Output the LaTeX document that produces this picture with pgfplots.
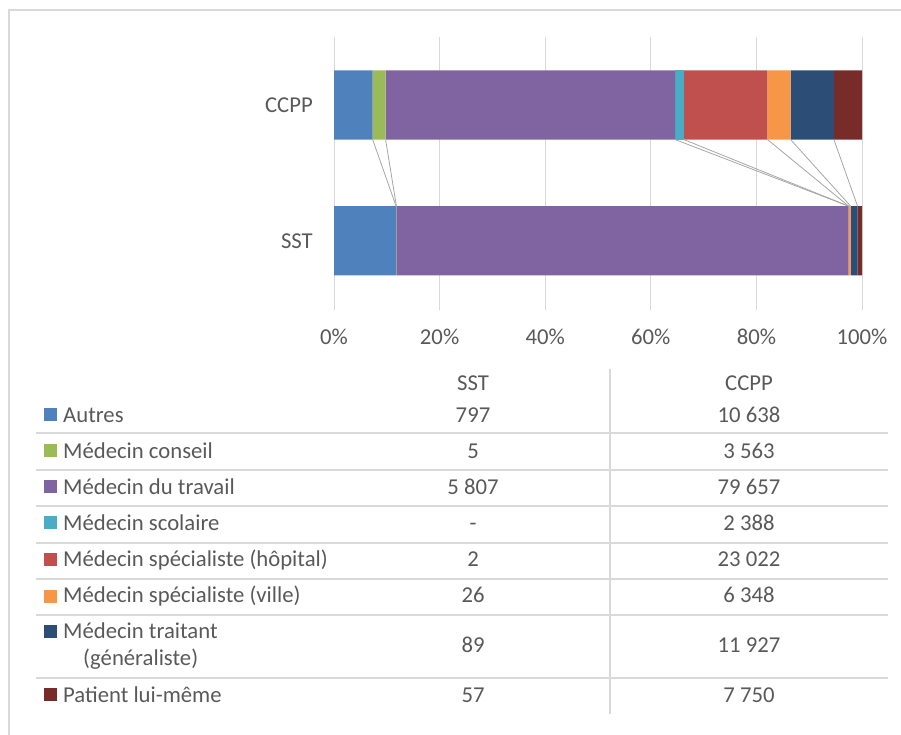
\documentclass[border=0pt]{standalone}
\usepackage{fontspec}
\setmainfont{Carlito}
\usepackage{pgfplots}
\pgfplotsset{compat=1.18}
\definecolor{txt}{HTML}{595959}
\definecolor{gridc}{HTML}{D9D9D9}
\definecolor{sline}{HTML}{A6A6A6}
\definecolor{cA}{HTML}{4F81BD}
\definecolor{cB}{HTML}{9BBB59}
\definecolor{cC}{HTML}{8064A2}
\definecolor{cD}{HTML}{4BACC6}
\definecolor{cE}{HTML}{C0504D}
\definecolor{cF}{HTML}{F79646}
\definecolor{cG}{HTML}{2C4D75}
\definecolor{cH}{HTML}{772C2A}
\newcommand{\tf}{\fontsize{22.7pt}{27pt}\selectfont}
\begin{document}
\begin{tikzpicture}[x=1pt,y=1pt]
\useasboundingbox (0,0) rectangle (901,735);
\draw[gridc, line width=1.5pt] (9,0) -- (9,725) -- (901,725);
\begin{axis}[at={(334pt,425pt)}, anchor=south west, scale only axis,
  width=528pt, height=273pt, xbar stacked, bar width=0.51,
  xmin=0, xmax=100, ymin=-0.51, ymax=1.5, enlargelimits=false,
  xtick={0,20,40,60,80,100}, xticklabel={\pgfmathprintnumber{\tick}\%},
  ytick={0,1}, yticklabels={SST,CCPP},
  axis line style={draw=none}, major tick length=0pt,
  xmajorgrids, grid style={gridc, line width=1pt},
  tick label style={font=\tf, text=txt},
  /pgf/number format/assume math mode=true,
  xticklabel style={anchor=base, inner sep=0pt, yshift=-35pt},
  yticklabel style={anchor=east, inner sep=0pt, xshift=-21pt},
  every axis plot/.append style={draw=none}]
% percentages of each row total (SST: 6783, CCPP: 145293)
\addplot[fill=cA] coordinates {(11.75,0) (7.32,1)};  % Autres
\addplot[fill=cB] coordinates {(0.07,0) (2.45,1)};   % Medecin conseil
\addplot[fill=cC] coordinates {(85.61,0) (54.83,1)}; % Medecin du travail
\addplot[fill=cD] coordinates {(0,0) (1.64,1)};      % Medecin scolaire
\addplot[fill=cE] coordinates {(0.03,0) (15.85,1)};  % specialiste hopital
\addplot[fill=cF] coordinates {(0.38,0) (4.37,1)};   % specialiste ville
\addplot[fill=cG] coordinates {(1.31,0) (8.21,1)};   % traitant
\addplot[fill=cH] coordinates {(0.85,0) (5.33,1)};   % patient
\end{axis}
\begin{axis}[at={(334pt,425pt)}, anchor=south west, scale only axis,
  width=528pt, height=273pt, xmin=0, xmax=100, ymin=-0.51, ymax=1.5,
  enlargelimits=false, hide axis]
\addplot[sline, line width=0.8pt, no markers] coordinates {(7.32,0.745) (11.75,0.255)};
\addplot[sline, line width=0.8pt, no markers] coordinates {(9.77,0.745) (11.82,0.255)};
\addplot[sline, line width=0.8pt, no markers] coordinates {(64.60,0.745) (97.43,0.255)};
\addplot[sline, line width=0.8pt, no markers] coordinates {(66.24,0.745) (97.43,0.255)};
\addplot[sline, line width=0.8pt, no markers] coordinates {(82.09,0.745) (97.46,0.255)};
\addplot[sline, line width=0.8pt, no markers] coordinates {(86.46,0.745) (97.84,0.255)};
\addplot[sline, line width=0.8pt, no markers] coordinates {(94.67,0.745) (99.15,0.255)};
\end{axis}
% data table
\begin{scope}[every node/.style={font=\tf, text=txt, inner sep=0pt}]
\foreach \y in {302,265,229,192,156,120,57} \draw[gridc, line width=1.5pt] (36,\y) -- (888,\y);
\draw[gridc, line width=1.5pt] (610,366) -- (610,21);
\node[anchor=base] at (473,344) {SST};
\node[anchor=base] at (749,344) {CCPP};
% keys
\fill[cA] (44,313.5) rectangle (57,326.5);
\fill[cB] (44,277.5) rectangle (57,290.5);
\fill[cC] (44,241.5) rectangle (57,254.5);
\fill[cD] (44,205.5) rectangle (57,218.5);
\fill[cE] (44,168.5) rectangle (57,181.5);
\fill[cF] (44,132) rectangle (57,145);
\fill[cG] (44,97) rectangle (57,110);
\fill[cH] (44,33.5) rectangle (57,46.5);
% labels
\node[anchor=base west] at (63,312.5) {Autres};
\node[anchor=base west] at (63,276.5) {Médecin conseil};
\node[anchor=base west] at (63,240.5) {Médecin du travail};
\node[anchor=base west] at (63,204.5) {Médecin scolaire};
\node[anchor=base west] at (63,168) {Médecin spécialiste (hôpital)};
\node[anchor=base west] at (63,132) {Médecin spécialiste (ville)};
\node[anchor=base west] at (63,96) {Médecin traitant};
\node[anchor=base west] at (83,69) {(généraliste)};
\node[anchor=base west] at (63,32.5) {Patient lui-même};
% SST values
\node[anchor=base] at (473,312.5) {797};
\node[anchor=base] at (473,276.5) {5};
\node[anchor=base] at (473,240.5) {5~807};
\node[anchor=base] at (473,204.5) {-};
\node[anchor=base] at (473,168) {2};
\node[anchor=base] at (473,132) {26};
\node[anchor=base] at (473,82) {89};
\node[anchor=base] at (473,32.5) {57};
% CCPP values
\node[anchor=base] at (749,312.5) {10~638};
\node[anchor=base] at (749,276.5) {3~563};
\node[anchor=base] at (749,240.5) {79~657};
\node[anchor=base] at (749,204.5) {2~388};
\node[anchor=base] at (749,168) {23~022};
\node[anchor=base] at (749,132) {6~348};
\node[anchor=base] at (749,82) {11~927};
\node[anchor=base] at (749,32.5) {7~750};
\end{scope}
\end{tikzpicture}
\end{document}
